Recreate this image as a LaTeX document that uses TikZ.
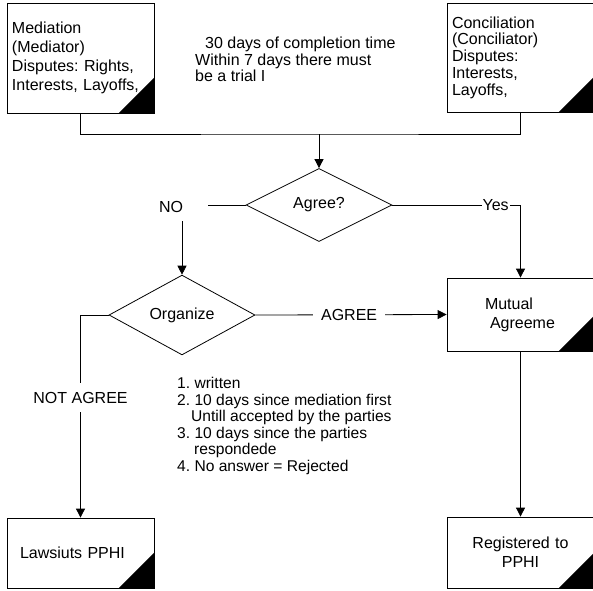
\documentclass[tikz,border=0pt]{standalone}
\usepackage{fontspec}
\setmainfont{Liberation Sans}
\usetikzlibrary{shapes.geometric,arrows.meta}
\frenchspacing
\begin{document}
\begin{tikzpicture}[x=1pt,y=-1pt,
  every node/.style={font=\fontsize{16}{19}\selectfont},
  box/.style={draw, line width=0.8pt, rectangle, inner ysep=0pt, inner xsep=5pt,
    minimum width=147pt, text width=137pt, align=left},
  decision/.style={draw, line width=0.8pt, diamond, minimum width=146pt,
    minimum height=73pt, inner sep=0pt},
  link/.style={draw, line width=0.8pt},
  arr/.style={link, -{Triangle[length=9pt,width=9pt]}},
  tag/.style={fill=white, inner xsep=1pt, inner ysep=2pt},
  corner/.style={fill=black}]
\useasboundingbox (0,0) rectangle (593,590);

% process boxes
\node[box, minimum height=110pt] (med) at (80.5,58)
  {Mediation\\(Mediator)\\Disputes: Rights,\\Interests, Layoffs,};
\node[box, minimum height=109pt, font=\fontsize{16}{16.7}\selectfont] (conc) at (520.5,57.5)
  {Conciliation\\(Conciliator)\\Disputes:\\Interests,\\Layoffs,};
\node[box, minimum height=73pt, inner xsep=38pt, text width=71pt] (mutual) at (520.5,314.5)
  {Mutual\\\hspace*{5pt}Agreeme};
\node[box, minimum height=70pt, inner xsep=13pt, text width=121pt] (law) at (80.5,553)
  {Lawsiuts PPHI};
\node[box, minimum height=71pt, align=center] (reg) at (520.5,552.5)
  {Registered to\\PPHI};

% black corner marks
\foreach \b in {med,conc,mutual,law,reg}
  \fill[corner] (\b.south east) -- ++(-36,0) -- ++(36,-36) -- cycle;

% decisions
\node[decision] (agree) at (319,205) {Agree?};
\node[decision] (org) at (182,315) {Organize};

% notes
\node[anchor=north west, inner sep=0pt, align=left, font=\fontsize{16}{16.5}\selectfont]
  (note) at (195,37)
  {\hspace*{10pt}30 days of completion time\\Within 7 days there must\\be a trial I};
\node[anchor=north west, inner sep=0pt, align=left, font=\fontsize{15.6}{16.5}\selectfont]
  (rules) at (177,377)
  {1. written\\2. 10 days since mediation first\\\hspace*{14pt}Untill accepted by the parties\\
   3. 10 days since the parties\\\hspace*{17pt}respondede\\4. No answer = Rejected};

% connectors
\coordinate (bus) at (319,134);
\path[link] (med.south) |- (bus) -| (conc.south);
\path[arr] (bus) -- (agree.north);
\path[arr] (agree.west) -| (org.north)
  node[pos=0.5, fill=white, inner sep=0pt, minimum width=52pt, minimum height=28pt,
       text width=46pt, align=left, yshift=-2pt] (no) {NO};
\path[arr] (agree.east) -| (mutual.north)
  node[pos=0.403, tag] (yes) {Yes};
\path[arr] (org.east) -- (mutual.west)
  node[pos=0.49, tag, inner xsep=8pt] (agr) {AGREE};
\path[arr] (org.west) -| (law.north)
  node[pos=0.704, tag, inner ysep=9pt] (notagr) {NOT AGREE};
\path[arr] (mutual.south) -- (reg.north);
\end{tikzpicture}
\end{document}
